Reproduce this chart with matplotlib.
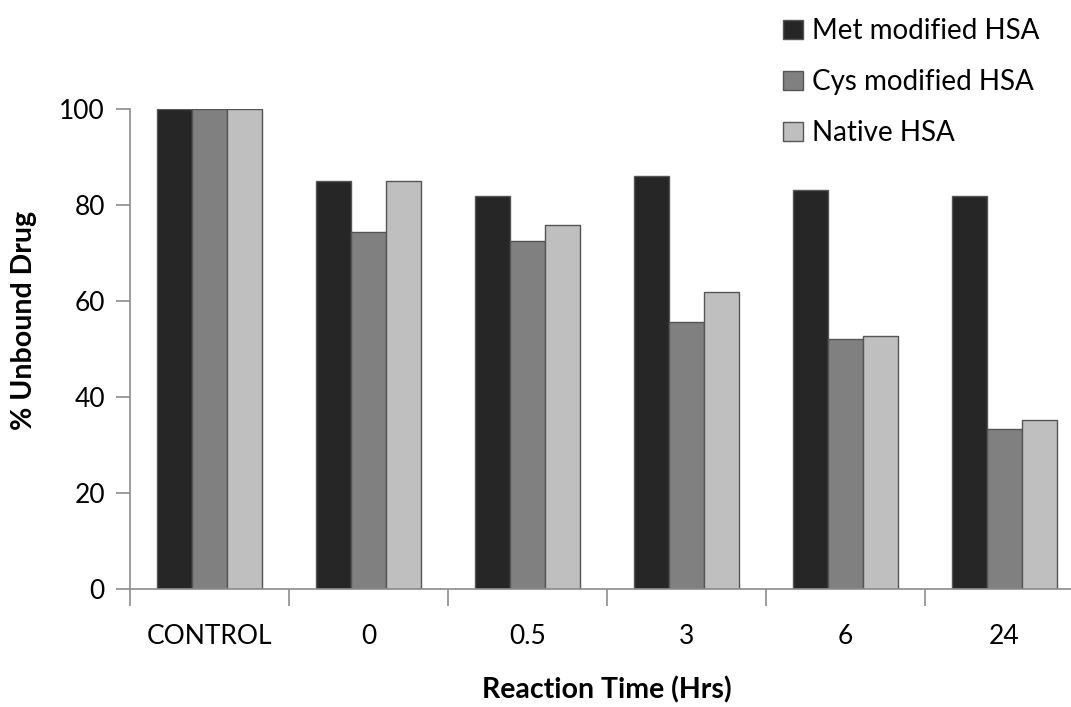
import numpy as np
import matplotlib.pyplot as plt
from matplotlib.patches import Patch

plt.rcParams['font.family'] = ['Lato', 'DejaVu Sans']

# % unbound drug after each reaction time
times = ['CONTROL', '0', '0.5', '3', '6', '24']
met_hsa = [100, 85.0, 82.0, 86.0, 83.2, 82.0]
cys_hsa = [100, 74.4, 72.6, 55.7, 52.1, 33.5]
native_hsa = [100, 85.0, 75.9, 62.0, 52.8, 35.2]

series = [
    ('Met modified HSA', met_hsa, '#262626'),
    ('Cys modified HSA', cys_hsa, '#808080'),
    ('Native HSA', native_hsa, '#bfbfbf'),
]

fig = plt.figure(figsize=(10.71, 7.07), dpi=100)
ax = fig.add_axes([130 / 1071, 117.7 / 707, 954 / 1071, 480 / 707])

x = np.arange(len(times))
w = 0.222
for i, (name, vals, col) in enumerate(series):
    ax.bar(x + (i - 1) * w, vals, width=w, color=col,
           edgecolor='#555555', linewidth=1.0)

ax.set_xlim(-0.5, len(times) - 0.5)
ax.set_ylim(0, 100)
ax.set_yticks(range(0, 101, 20))
ax.set_xticks(x)
ax.set_xticklabels(times)
ax.set_xticks(np.arange(-0.5, len(times), 1), minor=True)

axis_col = '#8c8c8c'
for side in ['top', 'right']:
    ax.spines[side].set_visible(False)
for side in ['left', 'bottom']:
    ax.spines[side].set_color(axis_col)
    ax.spines[side].set_linewidth(1.2)

ax.tick_params(axis='y', direction='out', length=10, width=1.2,
               color=axis_col, labelsize=19, pad=8)
ax.tick_params(axis='x', which='major', length=0, labelsize=19, pad=25)
ax.tick_params(axis='x', which='minor', direction='out', length=12,
               width=1.2, color=axis_col)

ax.set_xlabel('Reaction Time (Hrs)', fontsize=20.5, fontweight='bold')
ax.set_ylabel('% Unbound Drug', fontsize=20.5, fontweight='bold')
ax.xaxis.set_label_coords(0.5, -0.21)
ax.xaxis.label.set_va('center')
ax.yaxis.set_label_coords(-0.111, 0.561)
ax.yaxis.label.set_va('center')

handles = [Patch(facecolor=c, edgecolor='#555555', label=n)
           for n, _, c in series]
fig.legend(handles=handles, loc='upper left',
           bbox_to_anchor=(772 / 1071, 1 - 7 / 707), frameon=False,
           fontsize=20, handlelength=0.7, handleheight=0.7,
           handletextpad=0.35, labelspacing=0.9, borderaxespad=0)

fig.savefig('out.png', dpi=100)
